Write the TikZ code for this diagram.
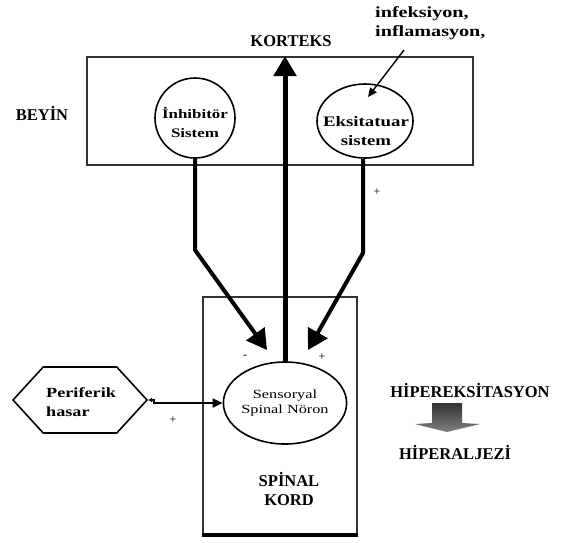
\documentclass[tikz,border=0pt]{standalone}
\usepackage{fontspec}
\setmainfont{Liberation Serif}
\usetikzlibrary{arrows.meta,shapes.geometric,shapes.symbols}

% horizontally widened text for the lower-case labels
\newcommand{\widetxt}[1]{\scalebox{1.3}[1]{#1}}

\tikzset{
  capslbl/.style={font=\fontsize{16.5}{19}\selectfont\bfseries, inner sep=0, align=center},
  widelbl/.style={font=\fontsize{13}{19}\selectfont\bfseries, inner sep=0, align=center},
  framebox/.style={draw=black!80, line width=2pt, inner sep=0},
  cellshape/.style={draw=black, line width=1.6pt, ellipse, inner sep=0},
  bigarrow/.style={line width=4pt, -{Triangle[length=20pt,width=22pt]}},
  sign/.style={font=\fontsize{12}{12}\selectfont, inner sep=0},
}

\begin{document}
\begin{tikzpicture}[x=1pt, y=-1pt]
  \useasboundingbox (0,0) rectangle (564,542);

  % brain and spinal cord frames
  \node[framebox, minimum width=386pt, minimum height=108pt] (beyin) at (280,111) {};
  \node[framebox, minimum width=154pt, minimum height=237pt] (kord) at (280,415.5) {};
  \draw[line width=4.5pt] (kord.south west) -- (kord.south east);

  % labels outside the frames
  \node[capslbl] (korteks) at (291,41) {KORTEKS};
  \node[capslbl] (beyinlbl) at (42,113) {BEYİN};
  \node[capslbl] (kordlbl) at (289,489) {SPİNAL\\KORD};
  \node[widelbl, font=\fontsize{15.5}{19}\selectfont\bfseries, align=left, anchor=west] (inf) at (375,23.5)
    {\widetxt{infeksiyon,}\\\widetxt{inflamasyon,}};

  % neural systems
  \node[cellshape, minimum width=80pt, minimum height=80pt] (inh) at (195,118) {};
  \node[widelbl] (inhtxt) at (195,122) {\widetxt{İnhibitör}\\\widetxt{Sistem}};
  \node[cellshape, minimum width=96pt, minimum height=74pt] (eks) at (365,121) {};
  \node[widelbl, font=\fontsize{14.5}{19}\selectfont\bfseries] (ekstxt) at (366,131)
    {\widetxt{Eksitatuar}\\\widetxt{sistem}};
  \node[cellshape, minimum width=120pt, minimum height=82pt,
        font=\fontsize{12.5}{15}\selectfont, align=center] (sn) at (285,403)
    {\widetxt{Sensoryal}\\\widetxt{Spinal Nöron}};

  % peripheral damage
  \node[draw=black, line width=1.6pt, signal, signal to=east and west, signal pointer angle=95,
        minimum width=134pt, minimum height=66pt, inner sep=0] (hex) at (80,400) {};
  \node[widelbl, font=\fontsize{14}{19}\selectfont\bfseries, align=left, anchor=west] (hextxt) at (46,402.5)
    {\widetxt{Periferik}\\\widetxt{hasar}};

  % pathways
  \coordinate (bendL) at (195,250);
  \coordinate (tipL) at (267,350);
  \coordinate (bendR) at (363,253);
  \coordinate (tipR) at (308,350);
  \draw[bigarrow, line width=5pt] (sn.north) -- (sn.north |- beyin.north);
  \draw[bigarrow, line join=miter] (inh.south) -- (bendL) -- (tipL);
  \draw[bigarrow, line join=miter] (eks.south -| bendR) -- (bendR) -- (tipR);

  \coordinate (infstart) at (404,50);
  \coordinate (infend) at (368,97);
  \draw[line width=1.4pt, -{Triangle[length=9pt,width=8pt]}] (infstart) -- (infend);

  \coordinate (hexbend) at (154,400);
  \draw[line width=2pt, {Triangle[length=4pt,width=4pt]}-{Triangle[length=10pt,width=9pt]}]
    (hex.east) -- (hexbend) |- (sn.west);

  % signs
  \node[sign] (p1) at (377,192) {+};
  \node[sign] (p2) at (173,420) {+};
  \node[sign] (p3) at (322,357) {+};
  \node[sign] (m1) at (245,357) {-};

  % outcome
  \node[capslbl] (hiperek) at (470,390) {HİPEREKSİTASYON};
  \node[capslbl] (hiperal) at (455,452) {HİPERALJEZİ};
  \shade[top color=black!80, bottom color=black!50]
    (432,403) -- (462,403) -- (462,423) -- (480,424) -- (447,432) -- (415,424) -- (432,423) -- cycle;
\end{tikzpicture}
\end{document}
